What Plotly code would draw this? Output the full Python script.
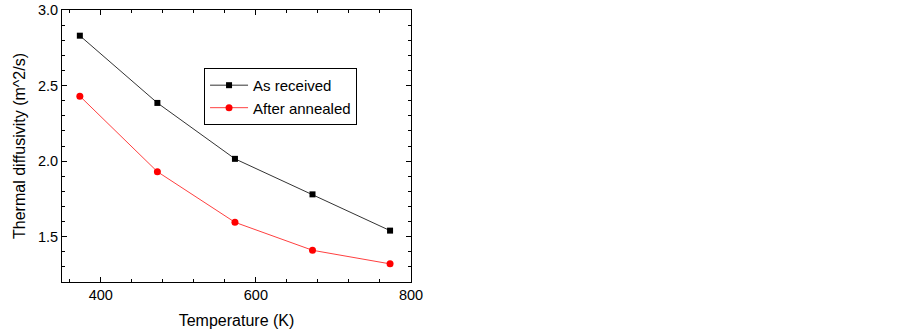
import plotly.graph_objects as go

temperature = [373, 473, 573, 673, 773]
as_received = [2.83, 2.385, 2.015, 1.78, 1.54]
after_annealed = [2.43, 1.93, 1.595, 1.41, 1.32]

FONT = "Liberation Sans, Arial, sans-serif"

fig = go.Figure()
fig.add_trace(go.Scatter(x=temperature, y=as_received, mode="lines+markers", name="As received",
                         line=dict(color="#333333", width=1),
                         marker=dict(symbol="square", size=6, color="black")))
fig.add_trace(go.Scatter(x=temperature, y=after_annealed, mode="lines+markers", name="After annealed",
                         line=dict(color="#ff4040", width=1),
                         marker=dict(symbol="circle", size=7, color="red")))

axis_common = dict(showline=True, linecolor="black", linewidth=1, mirror="allticks",
                   ticks="inside", ticklen=5, tickcolor="black", showgrid=False, zeroline=False,
                   automargin=False,
                   tickfont=dict(family=FONT, size=14.5, color="black"))

fig.update_xaxes(range=[350, 800], dtick=200, tick0=400,
                 minor=dict(ticks="inside", dtick=40, tick0=360, ticklen=3, tickcolor="black"),
                 title=dict(text="Temperature (K)", font=dict(family=FONT, size=16, color="black"), standoff=12),
                 **axis_common)
fig.update_yaxes(range=[1.2, 3.0], dtick=0.5, tick0=1.5, tickformat=".1f",
                 minor=dict(ticks="inside", dtick=0.1, ticklen=3, tickcolor="black"),
                 title=dict(text="Thermal diffusivity (m^2/s)", font=dict(family=FONT, size=16, color="black"), standoff=8),
                 **axis_common)

fig.update_layout(
    width=903, height=330,
    margin=dict(l=62, r=492, t=10, b=48),
    plot_bgcolor="white", paper_bgcolor="white",
    font=dict(family=FONT, color="black"),
    legend=dict(x=0.407, y=0.787, xanchor="left", yanchor="top",
                bordercolor="black", borderwidth=1, bgcolor="white",
                font=dict(family=FONT, size=15, color="black"),
                tracegroupgap=0, itemwidth=38),
    showlegend=True,
)

fig.write_html("out.html", config={"displayModeBar": False},
               post_script="document.body.style.margin='0';document.body.style.padding='0';")
